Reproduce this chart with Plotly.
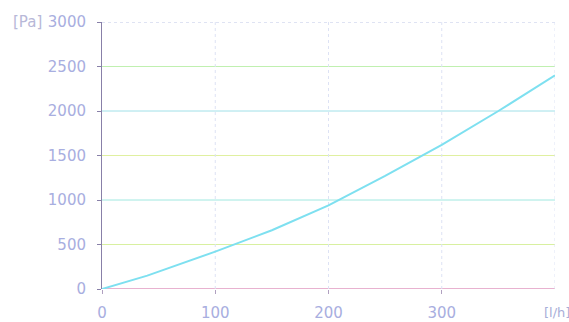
import plotly.graph_objects as go

flow = [0, 40, 100, 150, 200, 250, 300, 350, 400]
pressure = [0, 150, 420, 660, 940, 1270, 1620, 2000, 2400]
x_ticks = [0, 100, 200, 300]
y_ticks = [0, 500, 1000, 1500, 2000, 2500, 3000]
grid_colors = ["#e098c0", "#d8f0a0", "#a0e8e0", "#e0f0a0", "#a0e0e8", "#c0f0b0", "#c0c8e8"]

label_color = "#a8aee0"
font_family = "DejaVu Sans, Verdana, sans-serif"
fig = go.Figure()
fig.add_trace(go.Scatter(x=flow, y=pressure, mode="lines",
                         line=dict(color="#7ee0f0", width=2), hoverinfo="skip"))

for v, c in zip(y_ticks, grid_colors):
    fig.add_shape(type="line", xref="x", yref="y", x0=0, x1=400, y0=v, y1=v,
                  line=dict(color=c, width=1.5 if v == 0 else 1,
                            dash="solid" if v < 3000 else "dot"), layer="below")
for v in x_ticks[1:] + [400]:
    fig.add_shape(type="line", xref="x", yref="y", x0=v, x1=v, y0=0, y1=3000,
                  line=dict(color="#dde2f4", width=1, dash="dot"), layer="below")

fig.add_annotation(x=0, y=3000, xref="paper", yref="y", text="[Pa]", showarrow=False,
                   xanchor="left", xshift=-91, font=dict(size=15, color="#b8b8d8", family=font_family))
fig.add_annotation(x=1, y=0, xref="paper", yref="paper", text="[l/h]", showarrow=False,
                   xanchor="left", yanchor="middle", yshift=-23, xshift=-13,
                   font=dict(size=13, color="#a8aed8", family=font_family))

fig.update_layout(
    width=569, height=322,
    margin=dict(l=102, r=14, t=22, b=33, autoexpand=False),
    paper_bgcolor="white", plot_bgcolor="white",
    showlegend=False,
    font=dict(family=font_family, size=15, color=label_color),
    xaxis=dict(range=[0, 400], tickvals=x_ticks, showgrid=False, zeroline=False,
               showline=False, ticks="outside", ticklen=4, tickcolor="#b0a0c0",
               automargin=False,
               tickfont=dict(color=label_color, size=15), ticklabelstandoff=6),
    yaxis=dict(range=[0, 3000], tickvals=y_ticks, showgrid=False, zeroline=False,
               showline=True, linecolor="#8880a8", linewidth=1,
               ticks="outside", ticklen=4, tickcolor="#8880a8", automargin=False,
               tickfont=dict(color=label_color, size=15), ticklabelstandoff=8),
)
fig.write_html("out.html", config={"displayModeBar": False},
               post_script="document.body.style.margin='0';document.body.style.overflow='hidden';")
